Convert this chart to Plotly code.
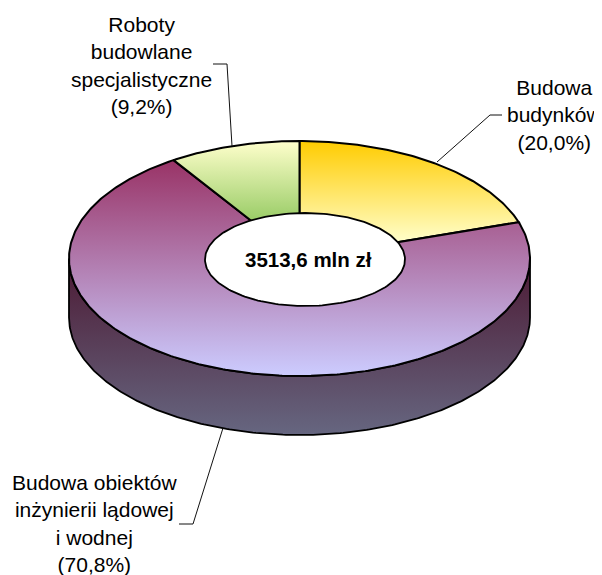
import numpy as np
import plotly.graph_objects as go

categories = ["Budowa<br>budynków", "Budowa obiektów<br>inżynierii lądowej<br>i wodnej", "Roboty<br>budowlane<br>specjalistyczne"]
shares = [20.0, 70.8, 9.2]
share_labels = ["(20,0%)", "(70,8%)", "(9,2%)"]
total_label = "3513,6 mln zł"

# slice colour ramps (top colour, bottom colour, ramp start y, ramp stop y)
ramps = [("#FFCC00", "#FFFFCC", 141, 243),
         ("#993366", "#CCCCFF", 160, 376),
         ("#FFFFCC", "#99CC66", 141, 221)]
wall_ramp = ("#4C1933", "#666680", 258, 434)

# geometry of the tilted disc, in px of the 602x575 page
CX, CY, RX, RY, DEPTH = 299.5, 258.5, 230.5, 117.5, 59
HX, HY, HRX, HRY = 305, 259.5, 100, 46.5
FONT = "Liberation Sans, Arial, sans-serif"
FS = 21
PAGE_MARGIN = 8  # the page body offsets the graph by this much


def ell(t, cx=CX, cy=CY, rx=RX, ry=RY):
    return cx + rx * np.sin(t), cy - ry * np.cos(t)


fig = go.Figure()

# side wall (lower half of the disc)
t = np.linspace(np.pi / 2, 3 * np.pi / 2, 240)
xt, yt = ell(t)
xb, yb = ell(t, cy=CY + DEPTH)
fig.add_trace(go.Scatter(
    x=np.r_[xt, xb[::-1], xt[0]], y=np.r_[yt, yb[::-1], yt[0]],
    mode="lines", fill="toself", line=dict(color="#000000", width=1.8),
    fillgradient=dict(type="vertical", start=wall_ramp[2], stop=wall_ramp[3],
                      colorscale=[[0, wall_ramp[0]], [1, wall_ramp[1]]]),
    hoverinfo="skip", showlegend=False))

# top face slices, clockwise from 12 o'clock
edges = np.r_[0, np.cumsum(shares)] / sum(shares) * 2 * np.pi
for i, (a, b) in enumerate(zip(edges[:-1], edges[1:])):
    t = np.linspace(a, b, max(int((b - a) * 80), 20))
    x, y = ell(t)
    c0, c1, s0, s1 = ramps[i]
    fig.add_trace(go.Scatter(
        x=np.r_[CX, x, CX], y=np.r_[CY, y, CY],
        mode="lines", fill="toself", line=dict(color="#000000", width=2),
        fillgradient=dict(type="vertical", start=s0, stop=s1,
                          colorscale=[[0, c0], [1, c1]]),
        hoverinfo="skip", showlegend=False, name=categories[i].replace("<br>", " ")))

# hole
t = np.linspace(0, 2 * np.pi, 200)
x, y = ell(t, HX, HY, HRX, HRY)
fig.add_trace(go.Scatter(x=x, y=y, mode="lines", fill="toself", fillcolor="#FFFFFF",
                         line=dict(color="#000000", width=1.8),
                         hoverinfo="skip", showlegend=False))

# leader lines
leaders = [([502, 490, 437], [115, 115, 162]),
           ([179, 193, 223], [524, 524, 428]),
           ([213, 227, 232], [64, 64, 146])]
for lx, ly in leaders:
    fig.add_trace(go.Scatter(x=lx, y=ly, mode="lines", line=dict(color="#111111", width=1),
                             hoverinfo="skip", showlegend=False))

# labels
label_pos = [(554, 115), (94, 523), (141, 65)]
for cat, share, (lx, ly) in zip(categories, share_labels, label_pos):
    fig.add_annotation(x=lx, y=ly, text=f"{cat}<br>{share}", showarrow=False,
                       xanchor="center", yanchor="middle",
                       font=dict(family=FONT, size=FS, color="#000000"))
fig.add_annotation(x=308, y=259, text=f"<b>{total_label}</b>", showarrow=False,
                   font=dict(family=FONT, size=FS - 0.5, color="#000000"))

fig.update_layout(
    width=602 - PAGE_MARGIN, height=575 - PAGE_MARGIN, margin=dict(l=0, r=0, t=0, b=0),
    paper_bgcolor="#FFFFFF", plot_bgcolor="#FFFFFF", showlegend=False,
    xaxis=dict(range=[PAGE_MARGIN, 602], visible=False, fixedrange=True),
    yaxis=dict(range=[575, PAGE_MARGIN], visible=False, fixedrange=True),
)
fig.write_html("out.html", config={"displayModeBar": False})
